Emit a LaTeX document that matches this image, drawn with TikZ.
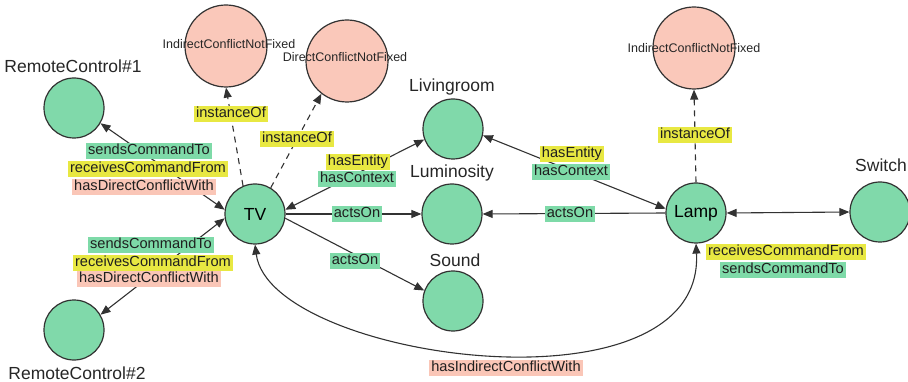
\documentclass[tikz,border=0pt]{standalone}
\usepackage{fontspec}
\setmainfont{Liberation Sans}
\usetikzlibrary{arrows.meta}
\definecolor{gfill}{RGB}{128,217,170}
\definecolor{glab}{RGB}{126,218,168}
\definecolor{ylab}{RGB}{232,232,66}
\definecolor{plab}{RGB}{250,198,183}
\definecolor{pfill}{RGB}{250,200,186}
\definecolor{edgec}{RGB}{50,50,50}
\tikzset{
  gnode/.style={circle,draw=edgec,line width=1.2pt,fill=gfill,minimum size=60pt,inner sep=0pt,font=\fontsize{17.5}{18}\selectfont},
  pnode/.style={circle,draw=edgec,line width=1.2pt,fill=pfill,minimum size=82pt,inner sep=0pt},
  ptext/.style={font=\fontsize{12.5}{13}\selectfont,inner sep=0pt,text=black!85},
  bigl/.style={font=\fontsize{17.5}{18}\selectfont,inner sep=0pt,text=black!85},
  elab/.style={font=\fontsize{14.6}{15}\selectfont,inner xsep=2.2pt,inner ysep=1pt,text height=10.8pt,text depth=3pt,text=black!88},
  gl/.style={elab,fill=glab},
  yl/.style={elab,fill=ylab},
  pl/.style={elab,fill=plab},
  conn/.style={draw=edgec,line width=1.1pt,-{Triangle[length=10pt,width=8pt]}},
  biconn/.style={draw=edgec,line width=1.1pt,{Triangle[length=10pt,width=8pt]}-{Triangle[length=10pt,width=8pt]}},
  dconn/.style={conn,dash pattern=on 6pt off 5pt},
}
\begin{document}
\begin{tikzpicture}[x=1pt,y=-1pt]
\useasboundingbox (0,0) rectangle (908,382);
% nodes
\node[gnode] (RC1) at (74,108) {};
\node[bigl] (RC1l) at (73,66) {RemoteControl\#1};
\node[gnode] (RC2) at (74,330) {};
\node[bigl] (RC2l) at (77,373) {RemoteControl\#2};
\node[gnode] (TV) at (255,214) {TV};
\node[pnode] (ICNF1) at (226,46) {};
\node[ptext] (ICNF1t) at (229,44) {IndirectConflictNotFixed};
\node[pnode] (DCNF) at (347,61) {};
\node[ptext] (DCNFt) at (345,57) {DirectConflictNotFixed};
\node[gnode] (LR) at (453,129) {};
\node[bigl] (LRl) at (452,87) {Livingroom};
\node[gnode] (LUM) at (452,214) {};
\node[bigl] (LUMl) at (452,173) {Luminosity};
\node[gnode] (SND) at (453,301) {};
\node[bigl] (SNDl) at (455,260) {Sound};
\node[gnode] (LAMP) at (696,213) {Lamp};
\node[pnode] (ICNF2) at (694,48) {};
\node[ptext] (ICNF2t) at (694,48) {IndirectConflictNotFixed};
\node[gnode] (SW) at (880,212) {};
\node[bigl] (SWl) at (881,165) {Switch};
% connectors
\draw[biconn] (RC1.-30) -- (TV.172);
\draw[biconn] (RC2.30) -- (TV.188);
\draw[dconn] (TV.113) -- (ICNF1.south);
\draw[dconn] (TV.59) -- (DCNF.-128);
\draw[biconn] (TV.8) -- (LR.200);
\draw[conn] (TV.east) -- (LUM.west);
\draw[conn] (TV.-8) -- (SND.160);
\draw[biconn] (LR.-12) -- (LAMP.172);
\draw[conn] (LAMP.west) -- (LUM.east);
\draw[biconn] (LAMP.east) -- (SW.west);
\draw[dconn] (LAMP.north) -- (ICNF2.south);
\draw[biconn] (TV.south) .. controls (270,360) and (705,420) .. (LAMP.south);
% edge labels
\node[gl] (l1) at (149,151) {sendsCommandTo};
\node[yl] (l2) at (148,169) {receivesCommandFrom};
\node[pl] (l3) at (144,187) {hasDirectConflictWith};
\node[gl] (l4) at (151,245) {sendsCommandTo};
\node[yl] (l5) at (153,263) {receivesCommandFrom};
\node[pl] (l6) at (149,279) {hasDirectConflictWith};
\node[yl] (l7) at (231,114) {instanceOf};
\node[yl] (l8) at (297,139) {instanceOf};
\node[yl] (l9) at (358,162) {hasEntity};
\node[gl] (l10) at (357,179) {hasContext};
\node[gl] (l11) at (357,214) {actsOn};
\node[gl] (l12) at (355,261) {actsOn};
\node[yl] (l13) at (572,154) {hasEntity};
\node[gl] (l14) at (571,172) {hasContext};
\node[gl] (l15) at (570,214) {actsOn};
\node[yl] (l16) at (695,135) {instanceOf};
\node[yl] (l17) at (786,252) {receivesCommandFrom};
\node[gl] (l18) at (783,270) {sendsCommandTo};
\node[pl] (l19) at (506,368) {hasIndirectConflictWith};
\end{tikzpicture}
\end{document}
